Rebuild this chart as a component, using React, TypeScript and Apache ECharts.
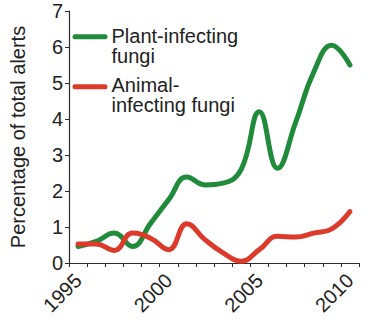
import React, { useEffect, useRef } from "react";
import * as echarts from "echarts";

const years = ["1995","1996","1997","1998","1999","2000","2001","2002","2003","2004","2005","2006","2007","2008","2009","2010"];
const plantFungi = [0.46, 0.6, 0.83, 0.46, 1.1, 1.76, 2.39, 2.17, 2.22, 2.6, 4.2, 2.63, 3.9, 5.3, 6.05, 5.5];
const animalFungi = [0.53, 0.53, 0.35, 0.83, 0.69, 0.37, 1.09, 0.65, 0.28, 0.05, 0.37, 0.74, 0.72, 0.83, 0.95, 1.43];
const yTicks = [0, 1, 2, 3, 4, 5, 6, 7];
const seriesNames = ["Plant-infecting\nfungi", "Animal-\ninfecting fungi"];

const GREEN = "#1f8b3b";
const RED = "#dc3a2b";
const TEXT = "#222222";
const FONT = "'Liberation Sans', Arial, Helvetica, sans-serif";

export default function App() {
  const ref = useRef<HTMLDivElement>(null);
  useEffect(() => {
    if (!ref.current) return;
    const chart = echarts.init(ref.current, null, { renderer: "svg" });
    chart.setOption({
      animation: false,
      backgroundColor: "#ffffff",
      textStyle: { fontFamily: FONT },
      grid: { left: 58, right: 11, top: 11, bottom: 61, containLabel: false },
      xAxis: {
        type: "category",
        data: years,
        boundaryGap: true,
        axisLine: { lineStyle: { color: "#2a2a2a", width: 1.2 } },
        axisTick: { show: true, interval: 0, length: 4, lineStyle: { color: "#2a2a2a" } },
        axisLabel: {
          interval: 4,
          rotate: 45,
          margin: 14,
          fontSize: 20,
          color: TEXT,
          fontFamily: FONT,
        },
        splitLine: { show: false },
      },
      yAxis: {
        type: "value",
        min: yTicks[0],
        max: yTicks[yTicks.length - 1],
        interval: 1,
        name: "Percentage of total alerts",
        nameLocation: "middle",
        nameGap: 41,
        nameTextStyle: { fontSize: 20, color: TEXT, fontFamily: FONT },
        axisLine: { show: true, lineStyle: { color: "#2a2a2a", width: 1.2 } },
        axisTick: { show: true, length: 4, lineStyle: { color: "#2a2a2a" } },
        axisLabel: { fontSize: 20, color: TEXT, margin: 6, fontFamily: FONT },
        splitLine: { show: false },
      },
      legend: { show: false },
      series: [
        {
          name: seriesNames[0],
          type: "line",
          data: plantFungi,
          smooth: 0.45,
          showSymbol: false,
          lineStyle: { color: GREEN, width: 5, cap: "round", join: "round" },
          itemStyle: { color: GREEN },
          z: 2,
        },
        {
          name: seriesNames[1],
          type: "line",
          data: animalFungi,
          smooth: 0.45,
          showSymbol: false,
          lineStyle: { color: RED, width: 5, cap: "round", join: "round" },
          itemStyle: { color: RED },
          z: 3,
        },
      ],
      graphic: [
        {
          type: "line",
          shape: { x1: 75, y1: 36.7, x2: 105, y2: 36.7 },
          style: { stroke: GREEN, lineWidth: 5, lineCap: "round" },
        },
        {
          type: "text",
          x: 111.5,
          y: 25.7,
          style: {
            text: seriesNames[0],
            fontSize: 20,
            lineHeight: 20,
            fill: TEXT,
            fontFamily: FONT,
            verticalAlign: "top",
            align: "left",
          },
        },
        {
          type: "line",
          shape: { x1: 75, y1: 86.7, x2: 105, y2: 86.7 },
          style: { stroke: RED, lineWidth: 5, lineCap: "round" },
        },
        {
          type: "text",
          x: 111.5,
          y: 74.7,
          style: {
            text: seriesNames[1],
            fontSize: 20,
            lineHeight: 20,
            fill: TEXT,
            fontFamily: FONT,
            verticalAlign: "top",
            align: "left",
          },
        },
      ],
    });
    return () => chart.dispose();
  }, []);
  return (
    <div
      ref={ref}
      style={{ position: "fixed", left: 0, top: 0, width: 370, height: 324, background: "#fff" }}
    />
  );
}
